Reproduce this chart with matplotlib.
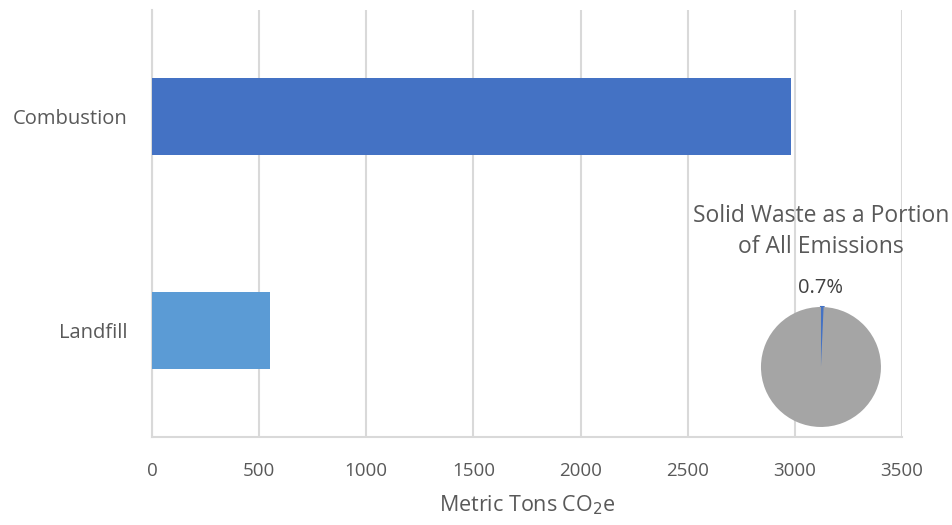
import matplotlib.pyplot as plt

plt.rcParams['font.family'] = ['Open Sans', 'DejaVu Sans']

# emissions by waste treatment, metric tons CO2e
categories = ["Landfill", "Combustion"]
emissions = [551, 2982]
bar_colors = ["#5B9BD5", "#4472C4"]

# solid waste share of all emissions (%)
pie_labels = ["Solid Waste", "Other"]
pie_values = [0.7, 99.3]
pie_colors = ["#4472C4", "#A5A5A5"]

text_color = "#595959"
grid_color = "#D9D9D9"

fig = plt.figure(figsize=(9.53, 5.25), dpi=100)
ax = fig.add_axes([0.1595, 0.1676, 0.787, 0.8133])

ax.barh(range(len(categories)), emissions, height=0.36, color=bar_colors, zorder=3)
ax.set_yticks(range(len(categories)))
ax.set_yticklabels(categories)
ax.set_ylim(-0.5, 1.5)
ax.set_xlim(0, 3500)
ax.set_xticks(range(0, 3501, 500))
ax.grid(axis="x", color=grid_color, linewidth=1.5, zorder=0)
for side in ["top", "right"]:
    ax.spines[side].set_visible(False)
for side in ["left", "bottom"]:
    ax.spines[side].set_color(grid_color)
    ax.spines[side].set_linewidth(1.5)
ax.tick_params(axis="both", length=0, labelcolor=text_color)
ax.tick_params(axis="x", pad=18, labelsize=13.5)
ax.tick_params(axis="y", pad=18, labelsize=14.5)
ax.set_xlabel("Metric Tons CO$_2$e", fontsize=15.5, color=text_color, labelpad=10)

# inset pie
pax = fig.add_axes([0.7985, 0.1867, 0.1259, 0.2286])
wedges, _ = pax.pie(pie_values, colors=pie_colors, startangle=90, counterclock=False,
                    wedgeprops=dict(linewidth=0))
wedges[0].set_edgecolor(pie_colors[0])
wedges[0].set_linewidth(1.5)
pax.set_xlim(-1, 1)
pax.set_ylim(-1, 1)
pax.set_aspect("equal")
pax.text(0, 1.15, f"{pie_values[0]:.1f}%", ha="center", va="bottom",
         fontsize=14.5, color="#404040", clip_on=False)
pax.text(0, 2.26, "Solid Waste as a Portion\nof All Emissions", ha="center", va="center",
         fontsize=16.5, color=text_color, linespacing=1.4, clip_on=False)

fig.savefig("out.png", dpi=100)
